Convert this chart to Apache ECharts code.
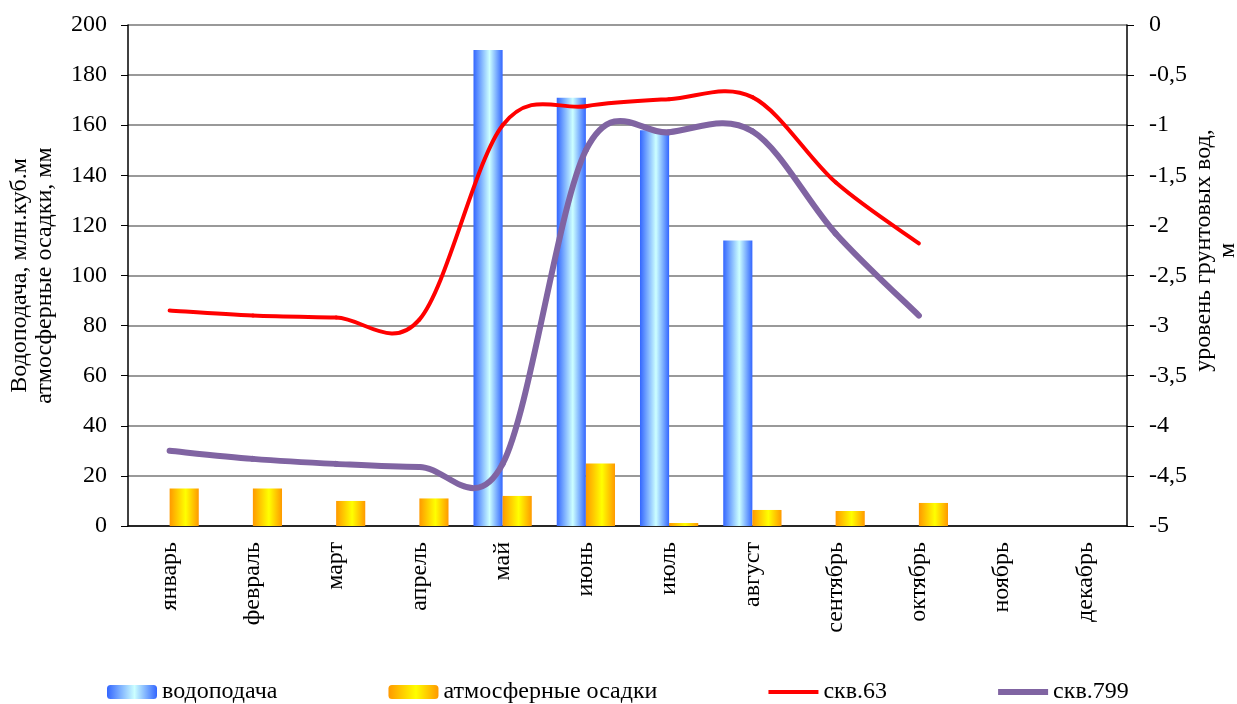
<!DOCTYPE html>
<html><head><meta charset="utf-8">
<script src="https://cdn.jsdelivr.net/npm/echarts@6/dist/echarts.min.js"></script>
<style>html,body{margin:0;padding:0;background:#fff}#c{width:1237px;height:704px}</style>
</head><body><div id="c"></div>
<script>
var months = ['январь','февраль','март','апрель','май','июнь','июль','август','сентябрь','октябрь','ноябрь','декабрь'];
var supply = [0, 0, 0, 0, 190, 171, 158, 114, 0, 0, 0, 0];
var precip = [15, 15, 10, 11, 12, 25, 1.2, 6.4, 6, 9.2, 0, 0];
var well63 = [-2.85, -2.90, -2.92, -2.94, -1.0, -0.81, -0.74, -0.72, -1.57, -2.18, null, null];
var well799 = [-4.25, -4.33, -4.38, -4.41, -4.38, -1.25, -1.07, -1.06, -2.08, -2.90, null, null];
var leftTicks = {min: 0, max: 200, interval: 20};
var rightTicks = {min: -5, max: 0, interval: 0.5};

var FONT = '"Liberation Serif","Times New Roman",serif';
var chart = echarts.init(document.getElementById('c'), null, {renderer: 'canvas'});
var blueGrad = new echarts.graphic.LinearGradient(0, 0, 1, 0, [
  {offset: 0, color: '#3366ff'}, {offset: 0.55, color: '#ccffff'}, {offset: 1, color: '#3366ff'}]);
var orangeGrad = new echarts.graphic.LinearGradient(0, 0, 1, 0, [
  {offset: 0, color: '#ff9900'}, {offset: 0.55, color: '#ffff00'}, {offset: 1, color: '#ff9900'}]);
var txt = {fontFamily: FONT, fontSize: 24, color: '#000'};

// smoothed line (Catmull-Rom style bezier, as in spreadsheet charts) through axis coordinates
function smoothRenderer(values, color, width) {
  return function (params, api) {
    if (params.dataIndex !== 0) return null;
    var pts = [];
    for (var i = 0; i < values.length; i++) {
      if (values[i] == null) break;
      pts.push(api.coord([i, values[i]]));
    }
    var children = [];
    var n = pts.length;
    for (var k = 0; k < n - 1; k++) {
      var p0 = pts[Math.max(k - 1, 0)], p1 = pts[k], p2 = pts[k + 1], p3 = pts[Math.min(k + 2, n - 1)];
      children.push({
        type: 'bezierCurve',
        shape: {
          x1: p1[0], y1: p1[1], x2: p2[0], y2: p2[1],
          cpx1: p1[0] + (p2[0] - p0[0]) / 6, cpy1: p1[1] + (p2[1] - p0[1]) / 6,
          cpx2: p2[0] - (p3[0] - p1[0]) / 6, cpy2: p2[1] - (p3[1] - p1[1]) / 6
        },
        style: {stroke: color, lineWidth: width, fill: null, lineCap: 'round', lineJoin: 'round'}
      });
    }
    return {type: 'group', children: children};
  };
}

chart.setOption({
  animation: false,
  textStyle: {fontFamily: FONT},
  grid: {left: 128, right: 110, top: 25, bottom: 178, containLabel: false, outerBoundsMode: 'none'},
  legend: {
    left: 107, top: 680, padding: 0, itemWidth: 50, itemHeight: 14, itemGap: 111,
    textStyle: {fontFamily: FONT, fontSize: 24, color: '#000'},
    data: [
      {name: 'водоподача'},
      {name: 'атмосферные осадки'},
      {name: 'скв.63', icon: 'path://M0,0L50,0L50,4L0,4Z', itemStyle: {color: '#ff0000'}},
      {name: 'скв.799', icon: 'path://M0,0L50,0L50,6L0,6Z', itemStyle: {color: '#8064a2'}}
    ]
  },
  xAxis: {
    type: 'category', data: months,
    axisLine: {lineStyle: {color: '#000', width: 1.5}},
    axisTick: {length: 6, lineStyle: {color: '#000'}},
    axisLabel: Object.assign({rotate: 90, margin: 16}, txt)
  },
  yAxis: [{
    type: 'value', min: leftTicks.min, max: leftTicks.max, interval: leftTicks.interval,
    name: 'Водоподача, млн.куб.м\nатмосферные осадки, мм', nameLocation: 'middle', nameGap: 71,
    nameMoveOverlap: false,
    nameTextStyle: Object.assign({lineHeight: 25}, txt),
    axisLine: {show: true, lineStyle: {color: '#000', width: 1.5}},
    axisTick: {show: true, length: 7, lineStyle: {color: '#000'}},
    axisLabel: Object.assign({margin: 21}, txt),
    splitLine: {lineStyle: {color: '#999', width: 2}}
  }, {
    type: 'value', position: 'right', min: rightTicks.min, max: rightTicks.max, interval: rightTicks.interval,
    name: 'уровень грунтовых вод,\nм', nameLocation: 'middle', nameGap: 65, nameRotate: 90,
    nameMoveOverlap: false,
    nameTextStyle: Object.assign({lineHeight: 24, padding: [0, 0, 0, 50]}, txt),
    axisLine: {show: true, lineStyle: {color: '#000', width: 1.5}},
    axisTick: {show: true, length: 7, lineStyle: {color: '#000'}},
    axisLabel: Object.assign({margin: 22, formatter: function (v) { return String(v).replace('.', ','); }}, txt),
    splitLine: {show: false}
  }],
  series: [{
    name: 'водоподача', type: 'bar', data: supply, barGap: '0%', barCategoryGap: '30%',
    itemStyle: {color: blueGrad}
  }, {
    name: 'атмосферные осадки', type: 'bar', data: precip,
    itemStyle: {color: orangeGrad}
  }, {
    name: 'скв.63', type: 'custom', yAxisIndex: 1, z: 5,
    data: well63.map(function (v, i) { return [i, v]; }),
    encode: {x: 0, y: 1},
    itemStyle: {color: '#ff0000'},
    renderItem: smoothRenderer(well63, '#ff0000', 4)
  }, {
    name: 'скв.799', type: 'custom', yAxisIndex: 1, z: 5,
    data: well799.map(function (v, i) { return [i, v]; }),
    encode: {x: 0, y: 1},
    itemStyle: {color: '#8064a2'},
    renderItem: smoothRenderer(well799, '#8064a2', 6)
  }]
});
</script></body></html>
